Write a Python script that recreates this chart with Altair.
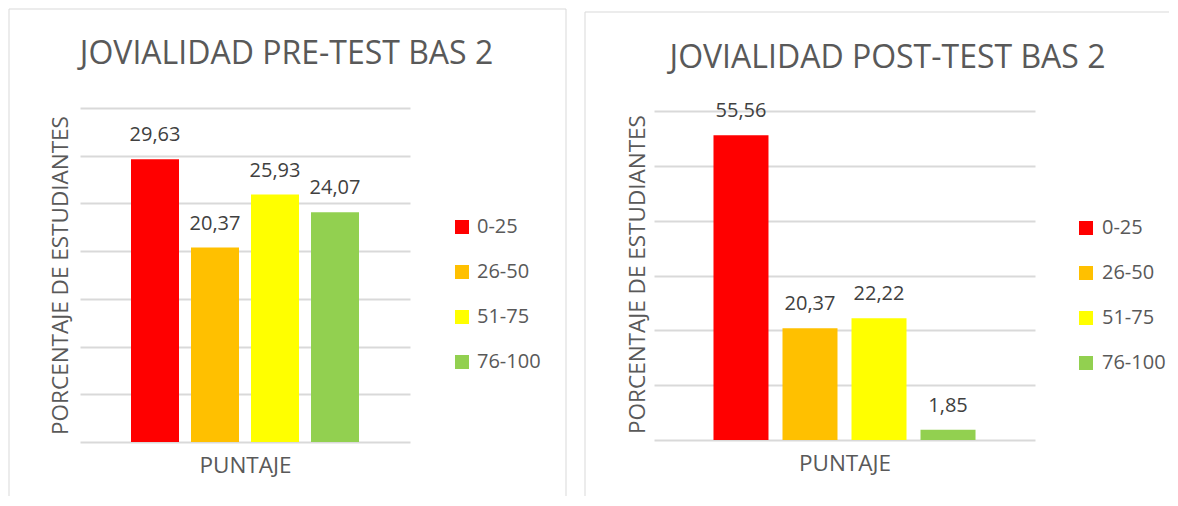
import altair as alt
import pandas as pd

# ---------------- data ----------------
categories = ["0-25", "26-50", "51-75", "76-100"]
pre_values = [29.63, 20.37, 25.93, 24.07]
post_values = [55.56, 20.37, 22.22, 1.85]
colors = ["#FF0000", "#FFC000", "#FFFF00", "#92D050"]
titles = ["JOVIALIDAD PRE-TEST BAS 2", "JOVIALIDAD POST-TEST BAS 2"]
y_title = "PORCENTAJE DE ESTUDIANTES"
x_title = "PUNTAJE"
pre_ticks = [0, 5, 10, 15, 20, 25, 30, 35]
post_ticks = [0, 10, 20, 30, 40, 50, 60]


def make_df(values):
    return pd.DataFrame({
        "rango": categories,
        "valor": values,
        "etiqueta": [f"{v:.2f}".replace(".", ",") for v in values],
    })


FONT = "Open Sans"
GRID = "#d9d9d9"
TXT = "#595959"


def rule(x1, x2, y1, y2, color=GRID):
    return alt.Chart(alt.Data(values=[{"k": 1}])).mark_rule(
        color=color, strokeWidth=1
    ).encode(x=alt.value(x1), x2=alt.value(x2), y=alt.value(y1), y2=alt.value(y2))


def title_text(text, cx, by):
    return alt.Chart(alt.Data(values=[{"t": text}])).mark_text(
        font=FONT, fontSize=32, color=TXT, align="center", baseline="alphabetic"
    ).encode(x=alt.value(cx), y=alt.value(by), text="t:N")


def panel(df, title, ticks, ymax, width, height, pad_in, pad_out, ytitle_pad,
          legend_x, legend_y, label_offset, title_pos, borders):
    x = alt.X(
        "rango:N", sort=categories,
        scale=alt.Scale(paddingInner=pad_in, paddingOuter=pad_out),
        axis=alt.Axis(title=x_title, labels=False, ticks=False, domain=False, grid=False,
                      titleFont=FONT, titleFontSize=22.5, titleColor=TXT,
                      titleFontWeight="normal", titlePadding=12),
    )
    y = alt.Y(
        "valor:Q",
        scale=alt.Scale(domain=[0, ymax], nice=False, zero=True),
        axis=alt.Axis(title=y_title, values=ticks, labels=False, ticks=False, domain=False,
                      grid=True, gridColor=GRID, gridWidth=1.8,
                      titleFont=FONT, titleFontSize=22.5, titleColor=TXT,
                      titleFontWeight="normal", titlePadding=ytitle_pad),
    )
    color = alt.Color(
        "rango:N", sort=categories,
        scale=alt.Scale(domain=categories, range=colors),
        legend=alt.Legend(title=None, orient="none", legendX=legend_x, legendY=legend_y,
                          symbolType="square", symbolSize=196, symbolStrokeWidth=0,
                          labelFont=FONT, labelFontSize=20, labelColor=TXT,
                          rowPadding=25, labelOffset=label_offset, padding=0),
    )
    bars = alt.Chart(df).mark_bar().encode(x=x, y=y, color=color)
    labels = alt.Chart(df).mark_text(
        font=FONT, fontSize=20, color="#404040", baseline="alphabetic", dy=-18
    ).encode(x=x, y=y, text="etiqueta:N")
    layers = [rule(*b[:4], **({"color": b[4]} if len(b) > 4 else {})) for b in borders]
    ttl = title_text(title, *title_pos)
    return alt.layer(bars, labels, ttl, *layers).properties(width=width, height=height)


left = panel(
    make_df(pre_values), titles[0], pre_ticks, 35, 330, 334, 0.2, 0.85, 7.3,
    372, 109, 5, (206.5, -44),
    borders=[(-71, 486, -99, -99), (-71, -71, -99, 388), (486, 486, -99, 388)],
)
right = panel(
    make_df(post_values), titles[1], post_ticks, 60 * 332 / 329, 381, 332, 0.203, 0.862, 4.3,
    422, 110, 6, (233.5, -40),
    borders=[(-69, 515, -99, -99, "#ffffff"), (-69, 515, -96, -96), (-69, -69, -96, 388)],
)

chart = alt.hconcat(left, right, spacing=17).resolve_scale(
    x="independent", y="independent", color="independent"
).resolve_legend(color="independent").properties(padding=0).configure_view(strokeWidth=0)

chart.save("out.html", embed_options={"renderer": "svg", "actions": False})
